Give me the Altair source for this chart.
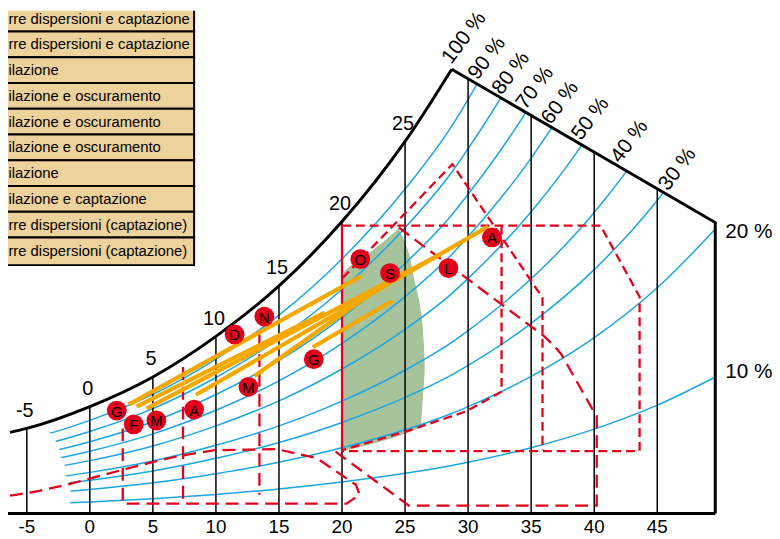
import altair as alt
import pandas as pd

# ---------------- data ----------------
# x: dry-bulb temperature (deg C); y: height above the base line (chart units)
sat_T = [-6.33, -5, 0, 5, 10, 15, 20, 25, 28.7]
sat_H = [82, 86, 108, 138, 179, 230, 295, 376, 449]
ext_T = [30, 35, 40, 45, 50]            # saturation scale continued to the right
ext_H = [480, 616, 790, 1014, 1301]
rh_levels = [10, 20, 30, 40, 50, 60, 70, 80, 90]
# height of each relative-humidity curve as a share of the saturation height
rh_fraction = [0.108, 0.225, 0.312, 0.385, 0.495, 0.583, 0.672, 0.768, 0.872]
rh_start_T = [-1.5, -1.55, -1.55, -1.5, -1.9, -2.0, -2.28, -2.46, -2.88, -3.33, -3.7]
rh_start_h = [0, 9.3, 19.3, 28.7, 37.7, 48.7, 56.7, 66.7, 76.7, 84.3, 98]
top_T = [28.7, 49.6, 49.6]
top_h = [449, 294, 0]
grid_T = [-5, 0, 5, 10, 15, 20, 25, 30, 35, 40, 45]
sat_label_T = [-5, 0, 5, 10, 15, 20, 25]

rh_label_text = ["100 %", "90 %", "80 %", "70 %", "60 %", "50 %", "40 %", "30 %"]
rh_label_T = [28.7, 30.8, 32.7, 34.6, 36.6, 39.0, 42.1, 45.9]
rh_label_h = [449, 433, 418, 403, 388, 372, 349, 321]
side_label_text = ["20 %", "10 %"]
side_label_h = [277, 136]

green_h = [63, 71, 81, 89, 116, 149, 173, 206, 239, 266, 288]
green_T_left = [20, 20, 20, 20, 20, 20, 20, 20, 20, 22.46, 24.51]
green_T_right = [20.04, 22.6, 25.06, 26.24, 26.4, 26.56, 26.48, 26.24, 25.69, 25.22, 24.51]

dashed_paths = {
    "rect": ([20, 40.5, 43.6, 43.6, 20], [291, 291, 219, 63, 63]),
    "apex": ([20.05, 28.75, 35.9, 35.9], [238, 353, 218, 64]),
    "arect": ([32.65, 32.65, 29.8, 25.1, 20], [291, 123, 103, 83, 64]),
    "lshape": ([24.5, 36.05, 36.84, 37.39, 39.83, 40.2, 40.2, 25.3, 19.33],
               [289, 179, 169, 161, 106, 99, 8, 8, 64]),
    "low": ([-6.33, -5.78, -3.98, -1.86, 0.49, 2.54, 4.66, 7.0, 9.91, 14.86, 18.0, 21.1, 21.4, 20.35, 2.61, 2.61],
            [18, 19, 23, 29, 37, 44, 51, 58, 64, 65, 56, 29, 19, 10, 10, 86]),
    "v1": ([7.39, 7.39], [148, 9]),
    "v2": ([13.45, 13.45], [181, 19]),
}
long_dash = ["lshape", "low", "v1", "v2"]

orange_T1 = [3.08, 3.71, 4.5, 8.42, 13.05, 17.68]
orange_h1 = [110, 108, 106, 120, 139, 168]
orange_T2 = [21.53, 18.63, 27.81, 31.58, 23.26, 24.0]
orange_h2 = [240, 203, 262, 290, 231, 215]

marker_text = ["G", "F", "M", "A", "M", "G", "D", "N", "O", "S", "L", "A"]
marker_T = [2.14, 3.48, 5.28, 8.27, 12.58, 17.76, 11.48, 13.84, 21.45, 23.81, 28.44, 31.89]
marker_h = [104, 90, 94, 105, 128, 156, 181, 199, 257, 243, 248, 279]

table_text = ["rre dispersioni e captazione", "rre dispersioni e captazione", "ilazione",
              "ilazione e oscuramento", "ilazione e oscuramento", "ilazione e oscuramento",
              "ilazione", "ilazione e captazione", "rre dispersioni (captazione)",
              "rre dispersioni (captazione)"]
table_edges_h = [513, 487, 461, 435, 409, 383, 357, 331, 305, 279, 251]

# ---------------- styling ----------------
BLUE = "#1BA6E1"
RED = "#E2001A"
ORANGE = "#F5A800"
GREEN = "#A7C39B"
TAN = "#EDD29B"
FONT = "Liberation Sans"
TOP = 540

xs = alt.Scale(domain=[-6.49, 54.1], nice=False, zero=False)
ys = alt.Scale(domain=[0, 508], nice=False, zero=False)


def X(f="T"):
    return alt.X(f"{f}:Q", scale=xs, axis=None)


def Y(f="h"):
    return alt.Y(f"{f}:Q", scale=ys, axis=None)


# ---------------- tables ----------------
allT = sat_T + ext_T
allH = sat_H + ext_H
rh_rows = []
for r, frac in zip(rh_levels, rh_fraction):
    for t, hh in zip(allT, allH):
        rh_rows.append({"T": t, "h": hh * frac, "rh": r})
rh_df = pd.DataFrame(rh_rows)
sat_df = pd.DataFrame({"T": sat_T, "h": sat_H})
sat_df["top"] = TOP

green_df = pd.DataFrame({"h": green_h, "T": green_T_left, "T2": green_T_right})
green = alt.Chart(green_df).mark_area(orient="horizontal", color=GREEN, opacity=1,
                                      interpolate="monotone").encode(
    y=Y(), x=X(), x2="T2:Q")

rh_lines = alt.Chart(rh_df).mark_line(color=BLUE, strokeWidth=1.5, interpolate="monotone").encode(
    x=X(), y=Y(), detail="rh:N")

left_mask_df = pd.DataFrame({"h": rh_start_h, "T": [-7.0] * len(rh_start_h), "T2": rh_start_T})
left_mask = alt.Chart(left_mask_df).mark_area(orient="horizontal", color="white", opacity=1).encode(
    y=Y(), x=X(), x2="T2:Q")

grid_df = pd.DataFrame({"T": grid_T, "h": 0, "top": TOP})
grid = alt.Chart(grid_df).mark_rule(color="black", strokeWidth=1.5).encode(
    x=X(), y=Y(), y2="top:Q")

mask1 = alt.Chart(sat_df).mark_area(orient="vertical", color="white", opacity=1,
                                    interpolate="monotone").encode(
    x=X(), y=Y(), y2="top:Q")
mask2_df = pd.DataFrame({"T": [top_T[0], top_T[1], top_T[1] + 0.05, 56],
                         "h": [top_h[0], top_h[1], -10, -10]})
mask2_df["top"] = TOP
mask2 = alt.Chart(mask2_df).mark_area(orient="vertical", color="white", opacity=1).encode(
    x=X(), y=Y(), y2="top:Q")

drows = []
for name, (tt, hh) in dashed_paths.items():
    for i, (t, v) in enumerate(zip(tt, hh)):
        drows.append({"T": t, "h": v, "pid": name, "o": i, "long": name in long_dash})
dash_df = pd.DataFrame(drows)
dash_short = alt.Chart(dash_df[~dash_df["long"]]).mark_line(
    color=RED, strokeWidth=2.3, strokeDash=[9, 5], strokeJoin="miter").encode(
    x=X(), y=Y(), detail="pid:N", order="o:Q")
dash_long = alt.Chart(dash_df[dash_df["long"]]).mark_line(
    color=RED, strokeWidth=2.3, strokeDash=[13, 7], strokeJoin="miter").encode(
    x=X(), y=Y(), detail="pid:N", order="o:Q")
solid_edge = alt.Chart(pd.DataFrame({"T": [20, 20], "h": [63, 291]})).mark_line(
    color=RED, strokeWidth=2.3).encode(x=X(), y=Y())

orange_df = pd.DataFrame({"T": orange_T1, "h": orange_h1, "T2": orange_T2, "h2": orange_h2})
orange = alt.Chart(orange_df).mark_rule(color=ORANGE, strokeWidth=4.3).encode(
    x=X(), y=Y(), x2="T2:Q", y2="h2:Q")

sat_line = alt.Chart(sat_df).mark_line(color="black", strokeWidth=3, interpolate="monotone").encode(
    x=X(), y=Y())
top_df = pd.DataFrame({"T": top_T, "h": top_h, "o": [0, 1, 2]})
top_line = alt.Chart(top_df).mark_line(color="black", strokeWidth=3, strokeJoin="miter").encode(
    x=X(), y=Y(), order="o:Q")
base_df = pd.DataFrame({"T": [-6.6, 49.6], "h": [0, 0]})
base_line = alt.Chart(base_df).mark_line(color="black", strokeWidth=3).encode(x=X(), y=Y())

mk_df = pd.DataFrame({"T": marker_T, "h": marker_h, "t": marker_text})
markers = alt.Chart(mk_df).mark_circle(size=400, color=RED, opacity=1).encode(x=X(), y=Y())
mk_text = alt.Chart(mk_df).mark_text(fontSize=15, font=FONT, color="black", dy=1).encode(
    x=X(), y=Y(), text="t:N")

sat_lab_df = pd.DataFrame({"T": sat_label_T,
                           "h": [sat_H[sat_T.index(t)] for t in sat_label_T],
                           "t": [str(t) for t in sat_label_T]})
sat_labels = alt.Chart(sat_lab_df).mark_text(fontSize=20, font=FONT, color="black", dx=-2, dy=-18,
                                             baseline="middle").encode(x=X(), y=Y(), text="t:N")

rh_lab_df = pd.DataFrame({"T": rh_label_T, "h": rh_label_h, "t": rh_label_text})
rh_labels = alt.Chart(rh_lab_df).mark_text(fontSize=21, font=FONT, color="black", angle=307,
                                           align="left", baseline="bottom", dx=3, dy=1).encode(
    x=X(), y=Y(), text="t:N")
side_df = pd.DataFrame({"T": [top_T[1]] * 2, "h": side_label_h, "t": side_label_text})
side_labels = alt.Chart(side_df).mark_text(fontSize=21, font=FONT, color="black", align="left",
                                           baseline="middle", dx=10, dy=-7).encode(
    x=X(), y=Y(), text="t:N")

tick_df = pd.DataFrame({"T": grid_T, "h": [-14] * len(grid_T), "t": [str(t) for t in grid_T]})
tick_labels = alt.Chart(tick_df).mark_text(fontSize=19, font=FONT, color="black",
                                           baseline="middle").encode(x=X(), y=Y(), text="t:N")

tab_df = pd.DataFrame({"x1": [-8.0] * len(table_text), "x2": [8.27] * len(table_text),
                       "y1": table_edges_h[:-1], "y2": table_edges_h[1:], "t": table_text})
tab_df["ym"] = (tab_df["y1"] + tab_df["y2"]) / 2
tab_df["xt"] = -6.46
tab_rect = alt.Chart(tab_df).mark_rect(clip=True, fill=TAN, stroke="black", strokeWidth=2).encode(
    x=X("x1"), x2="x2:Q", y=Y("y1"), y2="y2:Q")
tab_text = alt.Chart(tab_df).mark_text(align="left", baseline="middle", fontSize=15, font=FONT,
                                       color="black").encode(x=X("xt"), y=Y("ym"), text="t:N")

chart = alt.layer(
    green, rh_lines, left_mask, grid, mask1, mask2,
    dash_short, dash_long, solid_edge, orange,
    sat_line, top_line, base_line,
    markers, mk_text, sat_labels, rh_labels, side_labels, tick_labels,
    tab_rect, tab_text,
).properties(
    width=772, height=508,
    autosize=alt.AutoSizeParams(type="none"),
    padding={"left": 0, "top": 0, "right": 0, "bottom": 31},
).configure_view(strokeWidth=0)

chart.save("out.html", embed_options={"renderer": "svg", "actions": False})
